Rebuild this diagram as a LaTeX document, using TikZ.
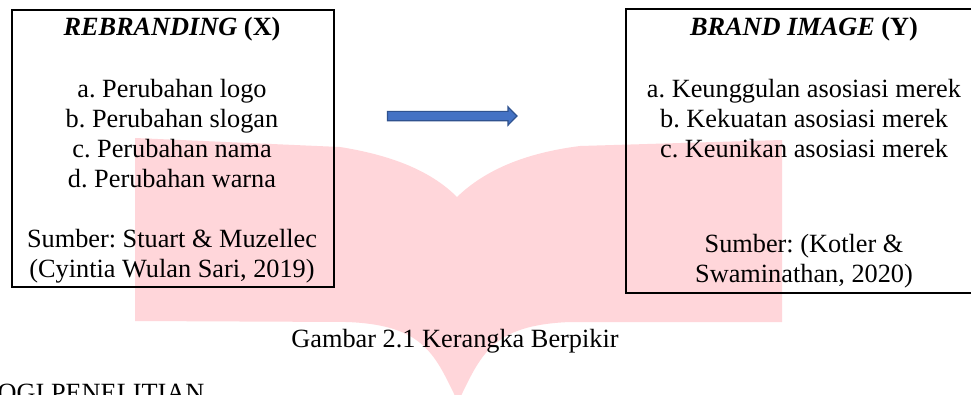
\documentclass[tikz,border=0pt]{standalone}
\usepackage{fontspec}
\setmainfont{Liberation Serif}
\usetikzlibrary{calc}

\definecolor{bookpink}{RGB}{255,214,218}
\definecolor{arrowfill}{RGB}{68,114,196}
\definecolor{arrowedge}{RGB}{47,82,143}

\tikzset{
  frame/.style={draw=black, line width=2pt, inner sep=0pt},
  txt/.style={anchor=base, inner sep=0pt, font=\fontsize{26.3}{30}\selectfont},
  blockarrow/.style={fill=arrowfill, draw=arrowedge, line width=1.2pt, line join=miter},
}

\begin{document}
\frenchspacing
\begin{tikzpicture}[x=1pt, y=-1pt]
  \clip (0,0) rectangle (971,394);
  \fill[white] (0,0) rectangle (971,394);

  % open-book watermark
  \fill[bookpink]
    (135,138) -- (340,147)
    .. controls (390,155) and (430,170) .. (457,197)
    .. controls (485,170) and (525,153) .. (580,146)
    -- (782,140) -- (782,322) -- (570,322)
    .. controls (491,325) and (481,355) .. (458,402)
    .. controls (435,355) and (425,325) .. (347,322)
    -- (135,321) -- cycle;

  % frames
  \node[frame, anchor=north west, minimum width=322.5pt, minimum height=277.5pt] (boxX) at (10.5,8.5) {};
  \node[frame, anchor=north west, minimum width=360pt, minimum height=284pt] (boxY) at (625,7.5) {};

  % left frame text
  \node[txt] (xTitle) at (172,35) {\textbf{\textit{REBRANDING}} \textbf{(X)}};
  \node[txt] (xa) at (172,97) {a. Perubahan logo};
  \node[txt] (xb) at (172,127.3) {b. Perubahan slogan};
  \node[txt] (xc) at (172,157.6) {c. Perubahan nama};
  \node[txt] (xd) at (172,187.9) {d. Perubahan warna};
  \node[txt] (xs1) at (172,247.5) {Sumber: Stuart \& Muzellec};
  \node[txt] (xs2) at (172,277.5) {(Cyintia Wulan Sari, 2019)};

  % right frame text
  \node[txt] (yTitle) at (804,35) {\textbf{\textit{BRAND IMAGE}} \textbf{(Y)}};
  \node[txt] (ya) at (804,97) {a. Keunggulan asosiasi merek};
  \node[txt] (yb) at (804,127.3) {b. Kekuatan asosiasi merek};
  \node[txt] (yc) at (804,157.6) {c. Keunikan asosiasi merek};
  \node[txt] (ys1) at (804,252.5) {Sumber: (Kotler \&};
  \node[txt] (ys2) at (804,282.5) {Swaminathan, 2020)};

  % block arrow X -> Y
  \coordinate (arrTail) at (387.5,116);
  \coordinate (arrTip) at (517,116);
  \draw[blockarrow]
    ($(arrTail)+(0,-4.65)$) -- ($(arrTip)+(-9,-4.65)$) -- ($(arrTip)+(-9,-9.15)$)
    -- (arrTip) -- ($(arrTip)+(-9,9.15)$) -- ($(arrTip)+(-9,4.65)$)
    -- ($(arrTail)+(0,4.65)$) -- cycle;

  % caption and following heading
  \node[txt] (caption) at (455,347) {Gambar 2.1 Kerangka Berpikir};
  \node[txt, anchor=base west] (heading) at (-2.5,401) {OGI PENELITIAN};
\end{tikzpicture}
\end{document}
